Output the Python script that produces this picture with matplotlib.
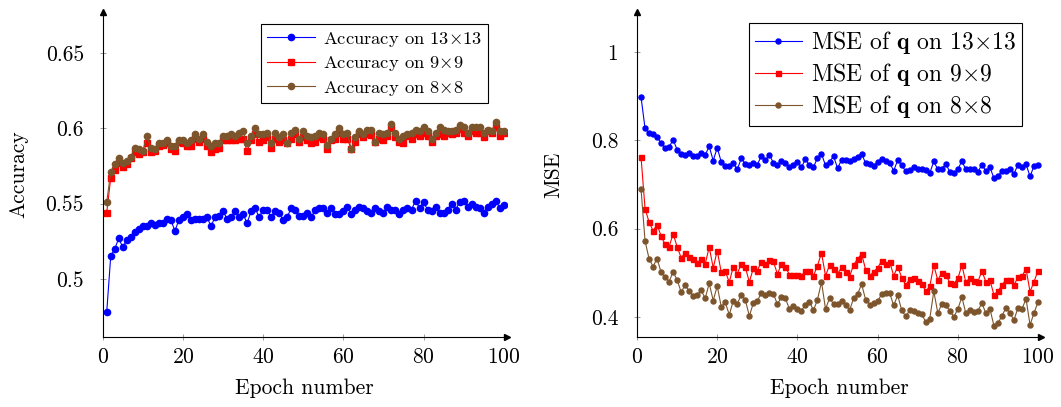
import numpy as np
import matplotlib
matplotlib.use('Agg')
from matplotlib import pyplot as plt
from matplotlib.ticker import FuncFormatter

plt.rcParams['font.family'] = 'serif'
plt.rcParams['font.serif'] = ['cmr10']
plt.rcParams['mathtext.fontset'] = 'cm'
plt.rcParams['axes.formatter.use_mathtext'] = True

epochs = np.arange(1, 101)

acc_13 = [0.478, 0.515, 0.520, 0.527, 0.521, 0.526, 0.528, 0.531, 0.533, 0.535,
          0.535, 0.537, 0.536, 0.537, 0.537, 0.540, 0.539, 0.532, 0.539, 0.541,
          0.543, 0.539, 0.540, 0.540, 0.540, 0.541, 0.535, 0.541, 0.542, 0.545,
          0.540, 0.541, 0.545, 0.541, 0.543, 0.537, 0.545, 0.547, 0.541, 0.546,
          0.546, 0.541, 0.545, 0.544, 0.539, 0.541, 0.547, 0.546, 0.542, 0.542,
          0.544, 0.541, 0.546, 0.547, 0.547, 0.544, 0.547, 0.543, 0.543, 0.545,
          0.548, 0.543, 0.546, 0.548, 0.547, 0.545, 0.544, 0.547, 0.545, 0.544,
          0.548, 0.546, 0.546, 0.543, 0.546, 0.547, 0.546, 0.552, 0.547, 0.551,
          0.546, 0.545, 0.548, 0.544, 0.544, 0.546, 0.550, 0.546, 0.551, 0.552,
          0.548, 0.550, 0.548, 0.547, 0.544, 0.548, 0.550, 0.552, 0.547, 0.549]
acc_9 = [0.544, 0.567, 0.572, 0.577, 0.574, 0.576, 0.580, 0.584, 0.583, 0.584,
         0.590, 0.584, 0.585, 0.588, 0.589, 0.590, 0.586, 0.585, 0.591, 0.590,
         0.588, 0.588, 0.593, 0.591, 0.593, 0.588, 0.584, 0.586, 0.587, 0.592,
         0.592, 0.592, 0.592, 0.593, 0.593, 0.585, 0.592, 0.596, 0.591, 0.592,
         0.594, 0.587, 0.593, 0.591, 0.592, 0.590, 0.593, 0.596, 0.591, 0.594,
         0.592, 0.590, 0.591, 0.594, 0.593, 0.586, 0.592, 0.593, 0.597, 0.593,
         0.593, 0.586, 0.591, 0.596, 0.594, 0.596, 0.5955, 0.591, 0.593, 0.592,
         0.595, 0.600, 0.594, 0.591, 0.590, 0.595, 0.593, 0.596, 0.595, 0.597,
         0.595, 0.591, 0.595, 0.596, 0.595, 0.597, 0.596, 0.597, 0.5995, 0.597,
         0.595, 0.598, 0.597, 0.597, 0.594, 0.598, 0.597, 0.601, 0.595, 0.597]
acc_8 = [0.551, 0.571, 0.576, 0.580, 0.577, 0.578, 0.581, 0.587, 0.586, 0.585,
         0.595, 0.587, 0.586, 0.590, 0.590, 0.592, 0.588, 0.588, 0.592, 0.592,
         0.590, 0.592, 0.596, 0.593, 0.596, 0.591, 0.588, 0.590, 0.590, 0.595,
         0.595, 0.596, 0.595, 0.597, 0.598, 0.590, 0.595, 0.600, 0.596, 0.596,
         0.597, 0.590, 0.597, 0.594, 0.596, 0.590, 0.597, 0.599, 0.593, 0.598,
         0.595, 0.594, 0.595, 0.597, 0.596, 0.589, 0.593, 0.596, 0.600, 0.596,
         0.597, 0.586, 0.594, 0.598, 0.596, 0.599, 0.599, 0.591, 0.597, 0.596,
         0.597, 0.603, 0.597, 0.593, 0.595, 0.596, 0.597, 0.599, 0.598, 0.601,
         0.598, 0.593, 0.597, 0.601, 0.599, 0.598, 0.598, 0.599, 0.602, 0.601,
         0.597, 0.601, 0.601, 0.601, 0.597, 0.599, 0.598, 0.604, 0.598, 0.598]

mse_13 = [0.898, 0.827, 0.816, 0.814, 0.808, 0.793, 0.783, 0.785, 0.801, 0.779,
          0.770, 0.766, 0.771, 0.764, 0.765, 0.771, 0.767, 0.786, 0.754, 0.783,
          0.751, 0.742, 0.742, 0.748, 0.734, 0.759, 0.747, 0.745, 0.748, 0.745,
          0.764, 0.755, 0.767, 0.749, 0.744, 0.754, 0.749, 0.740, 0.745, 0.751,
          0.739, 0.757, 0.743, 0.739, 0.760, 0.769, 0.743, 0.751, 0.764, 0.737,
          0.755, 0.755, 0.752, 0.757, 0.762, 0.770, 0.748, 0.746, 0.742, 0.751,
          0.758, 0.754, 0.749, 0.731, 0.755, 0.743, 0.730, 0.733, 0.739, 0.736,
          0.734, 0.733, 0.726, 0.752, 0.734, 0.736, 0.746, 0.729, 0.726, 0.734,
          0.753, 0.734, 0.736, 0.734, 0.728, 0.745, 0.730, 0.739, 0.714, 0.718,
          0.731, 0.731, 0.736, 0.724, 0.745, 0.740, 0.746, 0.718, 0.742, 0.745]
mse_9 = [0.762, 0.645, 0.615, 0.595, 0.609, 0.583, 0.564, 0.559, 0.588, 0.559,
         0.534, 0.545, 0.536, 0.532, 0.521, 0.532, 0.520, 0.558, 0.511, 0.550,
         0.501, 0.503, 0.479, 0.513, 0.498, 0.520, 0.513, 0.479, 0.510, 0.505,
         0.525, 0.520, 0.529, 0.526, 0.497, 0.519, 0.513, 0.496, 0.496, 0.496,
         0.493, 0.505, 0.505, 0.493, 0.516, 0.545, 0.493, 0.517, 0.509, 0.497,
         0.512, 0.502, 0.491, 0.518, 0.531, 0.543, 0.507, 0.493, 0.502, 0.511,
         0.527, 0.520, 0.525, 0.493, 0.514, 0.489, 0.472, 0.486, 0.489, 0.482,
         0.475, 0.458, 0.469, 0.517, 0.483, 0.500, 0.495, 0.477, 0.475, 0.487,
         0.517, 0.478, 0.489, 0.481, 0.480, 0.504, 0.479, 0.483, 0.450, 0.458,
         0.472, 0.484, 0.484, 0.472, 0.490, 0.492, 0.509, 0.457, 0.480, 0.505]
mse_8 = [0.689, 0.572, 0.532, 0.514, 0.532, 0.501, 0.491, 0.480, 0.502, 0.484,
         0.456, 0.472, 0.458, 0.448, 0.450, 0.460, 0.442, 0.476, 0.437, 0.470,
         0.423, 0.433, 0.405, 0.436, 0.430, 0.450, 0.439, 0.402, 0.431, 0.436,
         0.454, 0.450, 0.454, 0.452, 0.429, 0.445, 0.442, 0.418, 0.424, 0.418,
         0.414, 0.428, 0.434, 0.415, 0.439, 0.479, 0.418, 0.442, 0.430, 0.430,
         0.437, 0.428, 0.415, 0.442, 0.452, 0.474, 0.439, 0.428, 0.431, 0.435,
         0.452, 0.455, 0.454, 0.426, 0.449, 0.415, 0.401, 0.415, 0.414, 0.408,
         0.407, 0.388, 0.396, 0.458, 0.409, 0.429, 0.426, 0.414, 0.400, 0.418,
         0.445, 0.408, 0.416, 0.412, 0.414, 0.431, 0.408, 0.418, 0.380, 0.386,
         0.402, 0.421, 0.408, 0.393, 0.421, 0.418, 0.441, 0.382, 0.409, 0.434]

acc_labels = [r'Accuracy on 13$\times$13', r'Accuracy on 9$\times$9', r'Accuracy on 8$\times$8']
mse_labels = [r'MSE of $\mathbf{q}$ on 13$\times$13', r'MSE of $\mathbf{q}$ on 9$\times$9',
              r'MSE of $\mathbf{q}$ on 8$\times$8']

BLUE = '#0000ff'
RED = '#ff0000'
BROWN = '#7d552d'


def style_axis(ax):
    for s in ['top', 'right']:
        ax.spines[s].set_visible(False)
    for s in ['left', 'bottom']:
        ax.spines[s].set_linewidth(0.8)
    ax.tick_params(direction='inout', length=5, width=0.5, color='0.45',
                   labelsize=15.5)
    ax.tick_params(axis='y', pad=11)
    ax.tick_params(axis='x', pad=5)
    ax.plot(1, 0, '>', color='k', ms=4, transform=ax.transAxes, clip_on=False)
    ax.plot(0, 1, '^', color='k', ms=4, transform=ax.transAxes, clip_on=False)
    ax.yaxis.set_major_formatter(FuncFormatter(lambda v, p: '%g' % round(v, 3)))
    ax.set_xticks([0, 20, 40, 60, 80, 100])
    ax.set_xlim(0, 100.8)
    ax.set_xlabel('Epoch number', fontsize=15.5, labelpad=8)


fig = plt.figure(figsize=(10.61, 4.07), dpi=100)
ax1 = fig.add_axes([0.0968, 0.172, 0.381, 0.798])
ax2 = fig.add_axes([0.6004, 0.172, 0.381, 0.798])

ax1.plot(epochs, acc_13, '-o', color=BLUE, lw=0.8, ms=4.5, label=acc_labels[0])
ax1.plot(epochs, acc_9, '-s', color=RED, lw=0.8, ms=4.5, label=acc_labels[1])
ax1.plot(epochs, acc_8, '-o', color=BROWN, lw=0.8, ms=4.5, label=acc_labels[2])
style_axis(ax1)
ax1.set_ylim(0.4615, 0.677)
ax1.set_yticks([0.5, 0.55, 0.6, 0.65])
ax1.set_ylabel('Accuracy', fontsize=15.5, labelpad=12.5)
leg1 = ax1.legend(loc='upper right', bbox_to_anchor=(0.962, 0.975), fontsize=13.3,
                  numpoints=1, handlelength=2.6, fancybox=False, edgecolor='k',
                  framealpha=1, borderpad=0.3, labelspacing=0.3, handletextpad=0.45,
                  borderaxespad=0.2)
leg1.get_frame().set_linewidth(0.8)

ax2.plot(epochs, mse_13, '-o', color=BLUE, lw=0.8, ms=3.6, label=mse_labels[0])
ax2.plot(epochs, mse_9, '-s', color=RED, lw=0.8, ms=3.6, label=mse_labels[1])
ax2.plot(epochs, mse_8, '-o', color=BROWN, lw=0.8, ms=3.6, label=mse_labels[2])
style_axis(ax2)
ax2.set_ylim(0.3545, 1.09)
ax2.set_yticks([0.4, 0.6, 0.8, 1.0])
ax2.set_ylabel('MSE', fontsize=15.5, labelpad=19.5)
leg2 = ax2.legend(loc='upper right', bbox_to_anchor=(0.965, 0.98), fontsize=17,
                  numpoints=1, handlelength=2.0, fancybox=False, edgecolor='k',
                  framealpha=1, borderpad=0.25, labelspacing=0.2, handletextpad=0.4,
                  borderaxespad=0.2)
leg2.get_frame().set_linewidth(0.8)

fig.savefig('out.png', dpi=100)
